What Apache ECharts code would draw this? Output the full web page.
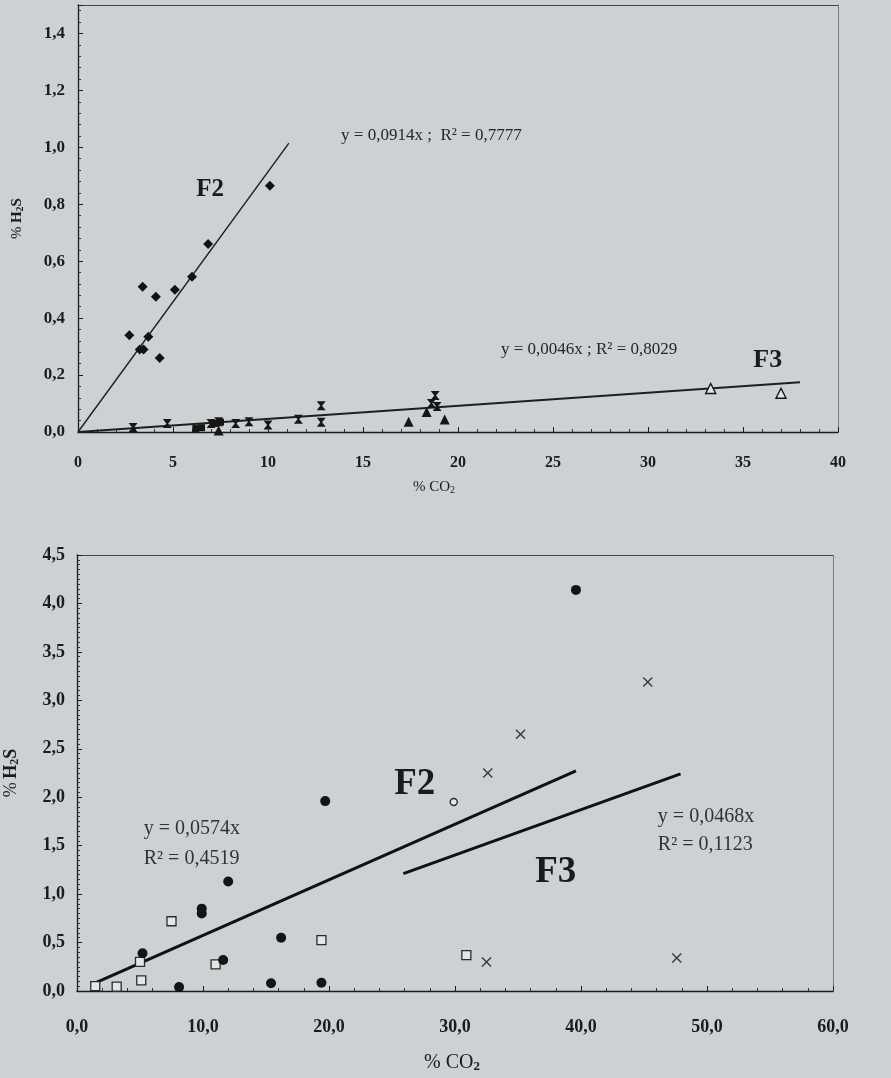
<!DOCTYPE html>
<html>
<head>
<meta charset="utf-8">
<script src="https://cdn.jsdelivr.net/npm/echarts@6/dist/echarts.min.js"></script>
<style>
  html, body { margin: 0; padding: 0; background: #cdd1d3; }
  #chart { width: 891px; height: 1078px; }
</style>
</head>
<body>
<div id="chart"></div>
<script>
// ---- Upper panel: % H2S versus % CO2 ----
const upperF2 = [[2.7,0.34],[3.4,0.51],[3.25,0.29],[3.45,0.29],[3.7,0.335],[4.1,0.475],[4.3,0.26],[5.1,0.50],[6.0,0.545],[6.85,0.66],[10.1,0.865]];
const upperF3Cross = [[2.9,0.016],[4.7,0.03],[7.0,0.03],[7.4,0.036],[8.3,0.03],[9.0,0.036],[10.0,0.025],[11.6,0.045],[12.8,0.092],[12.8,0.034],[18.6,0.10],[18.8,0.128],[18.9,0.09]];
const upperF3Square = [[6.2,0.012],[6.5,0.015],[7.2,0.03],[7.5,0.035]];
const upperF3Tri = [[7.4,0.005],[17.4,0.036],[18.35,0.07],[19.3,0.044]];
const upperF3OpenTri = [[33.3,0.153],[37.0,0.136]];
const upperFitSlopes = { F2: 0.0914, F3: 0.0046 };
const upperFitRange = { F2: [0, 11.1], F3: [0, 38] };

// ---- Lower panel ----
const lowerDots = [[5.2,0.39],[8.1,0.04],[9.9,0.85],[9.9,0.80],[12.0,1.13],[11.6,0.32],[15.4,0.08],[16.2,0.55],[19.4,0.086],[19.7,1.96],[39.6,4.14]];
const lowerOpenDot = [[29.9,1.95]];
const lowerSquares = [[1.45,0.05],[3.15,0.045],[5.1,0.11],[5.0,0.30],[7.5,0.72],[11.0,0.275],[19.4,0.526],[30.9,0.37]];
const lowerCrosses = [[32.6,2.25],[35.2,2.65],[45.3,3.19],[32.5,0.30],[47.6,0.34]];
const lowerFitSlopes = { F2: 0.0574, F3: 0.0468 };
const lowerFitRange = { F2: [1.5, 39.6], F3: [25.9, 47.9] };

// Tick label text with a decimal comma
const comma = (v, d) => v.toFixed(d).replace('.', ',');

const SERIF = '"Liberation Serif", "DejaVu Serif", serif';
const INK = '#1b1b1b';
const BG = '#cdd1d3';

const fitLine = (slope, range) => range.map(x => [x, slope * x]);

const hourglass = 'path://M0,0 L10,0 L6,5 L10,10 L0,10 L4,5 Z';
const xMark = 'path://M0,1 L1,0 L5,4 L9,0 L10,1 L6,5 L10,9 L9,10 L5,6 L1,10 L0,9 L4,5 Z';

function valueAxis(grid, opts) {
  return Object.assign({
    type: 'value', gridIndex: grid,
    splitLine: { show: false },
    axisLine: { show: true, onZero: false, lineStyle: { color: INK, width: 1.3 } },
    axisTick: { show: true, inside: true, length: 5, lineStyle: { color: INK } },
    minorTick: { show: true, splitNumber: 5, length: 3, lineStyle: { color: '#333' } }
  }, opts);
}

function frameAxis(grid, min, max, pos, type) {
  return {
    type: 'value', gridIndex: grid, min: min, max: max, position: pos,
    splitLine: { show: false }, axisTick: { show: false }, axisLabel: { show: false },
    axisLine: { show: true, onZero: false, lineStyle: { color: type === 'dotted' ? '#666' : '#444', width: 1, type: type } }
  };
}

function tickLabels(size, margin, fmt, extra) {
  return Object.assign({ fontFamily: SERIF, fontWeight: 'bold', color: INK, fontSize: size, margin: margin, formatter: fmt }, extra || {});
}

function axisTitleRich(size, subSize, subPad) {
  return {
    p: { fontFamily: SERIF, fontSize: size, color: INK },
    b: { fontFamily: SERIF, fontSize: size, fontWeight: 'bold', color: INK },
    s: { fontFamily: SERIF, fontSize: subSize, fontWeight: 'bold', color: INK, padding: [subPad, 0, 0, 0] }
  };
}

function annotation(xi, yi, items) {
  return {
    type: 'scatter', xAxisIndex: xi, yAxisIndex: yi, symbolSize: 0, silent: true, z: 5,
    itemStyle: { opacity: 1 },
    data: items.map(it => ({
      value: it.at,
      label: {
        show: true, position: 'inside', formatter: it.text,
        align: it.align || 'center', verticalAlign: 'middle',
        fontFamily: SERIF, fontSize: it.size, fontWeight: it.bold ? 'bold' : 'normal',
        color: it.color || INK
      }
    }))
  };
}

function points(xi, yi, data, symbol, size, style, z) {
  return {
    type: 'scatter', xAxisIndex: xi, yAxisIndex: yi, data: data,
    symbol: symbol, symbolSize: size,
    itemStyle: Object.assign({ opacity: 1 }, style), z: z || 3
  };
}

const chart = echarts.init(document.getElementById('chart'), null, { renderer: 'canvas' });

chart.setOption({
  backgroundColor: BG,
  animation: false,
  grid: [
    { left: 78, top: 5, width: 760, height: 427, containLabel: false, outerBoundsMode: 'none' },
    { left: 77, top: 555, width: 756, height: 436, containLabel: false, outerBoundsMode: 'none' }
  ],
  xAxis: [
    valueAxis(0, { min: 0, max: 40, interval: 5, axisLabel: tickLabels(16, 23, v => String(v)) }),
    valueAxis(1, { min: 0, max: 60, interval: 10, axisLabel: tickLabels(18, 27, v => comma(v, 1)) }),
    frameAxis(0, 0, 40, 'top', 'solid'),
    frameAxis(1, 0, 60, 'top', 'solid')
  ],
  yAxis: [
    valueAxis(0, {
      min: 0, max: 1.5, interval: 0.2,
      axisLabel: tickLabels(17, 13, v => comma(v, 1), { showMaxLabel: false }),
      name: '{p|%} {b|H}{s|2}{b|S}', nameLocation: 'middle', nameGap: 53, nameRotate: 90,
      nameTextStyle: { rich: axisTitleRich(15, 10, 6) }
    }),
    valueAxis(1, {
      min: 0, max: 4.5, interval: 0.5,
      minorTick: { show: true, splitNumber: 10, length: 3, lineStyle: { color: '#333' } },
      axisLabel: tickLabels(18, 12, v => comma(v, 1)),
      name: '{p|%} {b|H}{s|2}{b|S}', nameLocation: 'middle', nameGap: 56, nameRotate: 90,
      nameTextStyle: { rich: axisTitleRich(18, 12, 7) }
    }),
    frameAxis(0, 0, 1.5, 'right', 'dotted'),
    frameAxis(1, 0, 4.5, 'right', 'dotted')
  ],
  graphic: [
    { type: 'text', left: 413, top: 480, style: { rich: {
        p: { fontFamily: SERIF, fontSize: 15, fill: INK },
        s: { fontFamily: SERIF, fontSize: 10, fill: INK, padding: [6, 0, 0, 0] }
      }, text: '{p|% CO}{s|2}' } },
    { type: 'text', left: 424, top: 1053, style: { rich: {
        p: { fontFamily: SERIF, fontSize: 20, fill: INK },
        s: { fontFamily: SERIF, fontSize: 13, fontWeight: 'bold', fill: INK, padding: [8, 0, 0, 0] }
      }, text: '{p|% CO}{s|2}' } }
  ],
  series: [
    // upper panel fit lines
    { type: 'line', xAxisIndex: 0, yAxisIndex: 0, data: fitLine(upperFitSlopes.F2, upperFitRange.F2), symbol: 'none', lineStyle: { color: '#1e1e1e', width: 1.4 }, z: 2 },
    { type: 'line', xAxisIndex: 0, yAxisIndex: 0, data: fitLine(upperFitSlopes.F3, upperFitRange.F3), symbol: 'none', lineStyle: { color: '#1e1e1e', width: 2 }, z: 2 },
    // upper panel points
    points(0, 0, upperF2, 'diamond', 10, { color: '#121212' }),
    points(0, 0, upperF3Cross, hourglass, [9, 9], { color: '#161616' }),
    points(0, 0, upperF3Square, 'rect', 7, { color: '#161616' }),
    points(0, 0, upperF3Tri, 'triangle', 10, { color: '#161616' }),
    points(0, 0, upperF3OpenTri, 'triangle', 10, { color: '#e4e6e6', borderColor: '#161616', borderWidth: 1.4 }),
    annotation(0, 0, [
      { at: [6.95, 0.85], text: 'F2', size: 25, bold: true },
      { at: [36.3, 0.253], text: 'F3', size: 26, bold: true },
      { at: [18.6, 1.04], text: 'y = 0,0914x ;  R² = 0,7777', size: 17, color: '#262626' },
      { at: [26.9, 0.288], text: 'y = 0,0046x ; R² = 0,8029', size: 17, color: '#262626' }
    ]),
    // lower panel fit lines
    { type: 'line', xAxisIndex: 1, yAxisIndex: 1, data: fitLine(lowerFitSlopes.F2, lowerFitRange.F2), symbol: 'none', lineStyle: { color: '#111', width: 3 }, z: 2 },
    { type: 'line', xAxisIndex: 1, yAxisIndex: 1, data: fitLine(lowerFitSlopes.F3, lowerFitRange.F3), symbol: 'none', lineStyle: { color: '#111', width: 3 }, z: 2 },
    // lower panel points
    points(1, 1, lowerSquares, 'rect', 9, { color: '#e4e6e6', borderColor: '#2a2a2a', borderWidth: 1.3 }),
    points(1, 1, lowerDots, 'circle', 10, { color: '#141414' }, 4),
    points(1, 1, lowerOpenDot, 'circle', 7, { color: '#e4e6e6', borderColor: '#2a2a2a', borderWidth: 1.4 }),
    points(1, 1, lowerCrosses, xMark, 10, { color: '#3a3a3a' }),
    annotation(1, 1, [
      { at: [26.8, 2.13], text: 'F2', size: 37, bold: true },
      { at: [38.0, 1.22], text: 'F3', size: 37, bold: true },
      { at: [5.3, 1.67], text: 'y = 0,0574x', size: 20, align: 'left', color: '#333' },
      { at: [5.3, 1.37], text: 'R² = 0,4519', size: 20, align: 'left', color: '#333' },
      { at: [46.1, 1.80], text: 'y = 0,0468x', size: 20, align: 'left', color: '#333' },
      { at: [46.1, 1.51], text: 'R² = 0,1123', size: 20, align: 'left', color: '#333' }
    ])
  ]
});
</script>
</body>
</html>
